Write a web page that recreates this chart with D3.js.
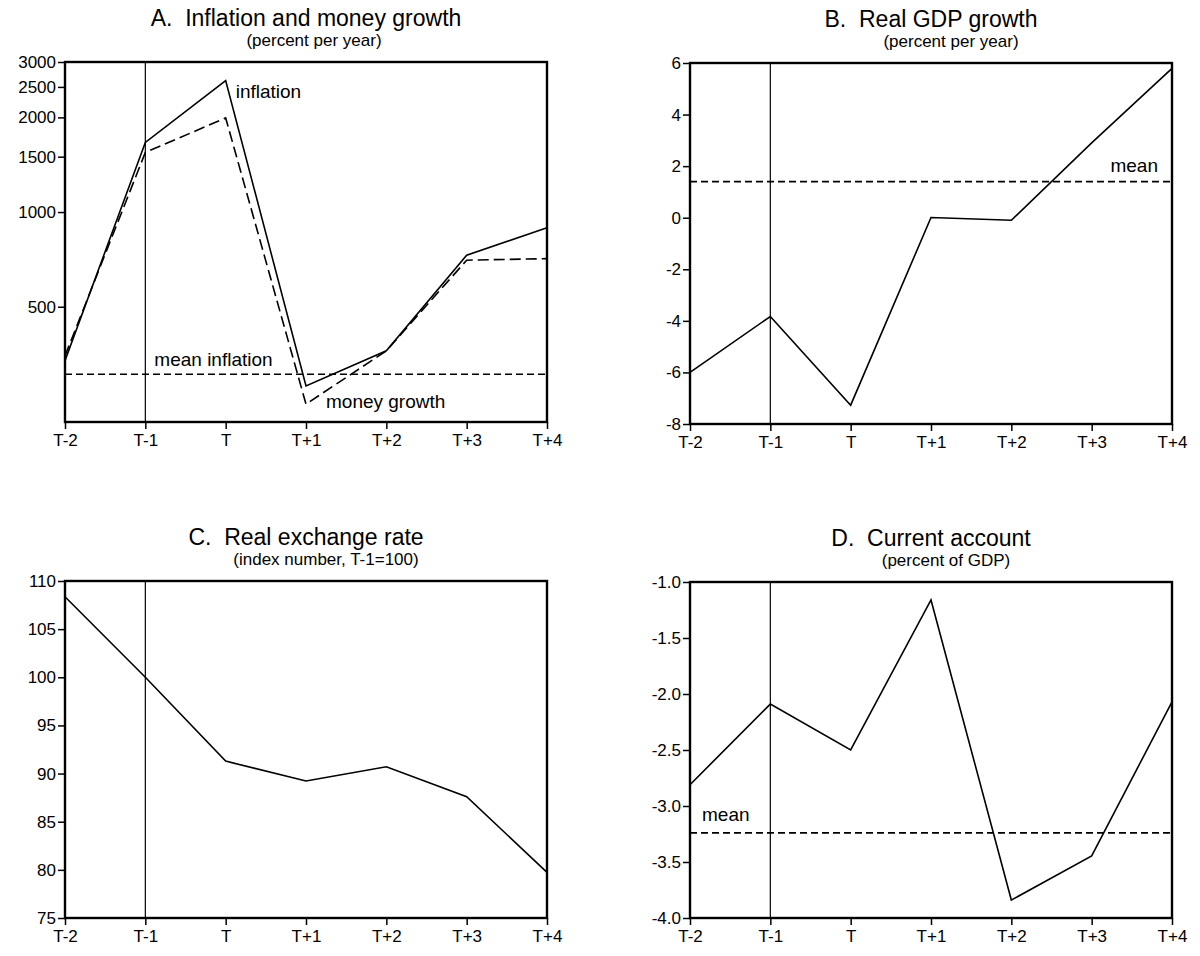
<!DOCTYPE html>
<html>
<head>
<meta charset="utf-8">
<script src="https://cdn.jsdelivr.net/npm/d3@7"></script>
<style>
  body { margin: 0; background: #fff; }
  svg { font-family: "Liberation Sans", Arial, sans-serif; }
</style>
</head>
<body>
<div class="charts"></div>
<script>
// periods around the stabilization year T
var periods = ["T-2", "T-1", "T", "T+1", "T+2", "T+3", "T+4"];

// A. inflation and money growth (percent per year, log scale)
var inflation = [337, 1665, 2620, 280, 362, 729, 891];
var moneyGrowth = [349, 1547, 1992, 245, 362, 703, 711];
var meanInflation = 305;
var ticksA = [500, 1000, 1500, 2000, 2500, 3000];

// B. real GDP growth (percent per year)
var gdpGrowth = [-6.0, -3.83, -7.27, 0.01, -0.1, 2.9, 5.79];
var meanGdp = 1.4;
var ticksB = [-8, -6, -4, -2, 0, 2, 4, 6];

// C. real exchange rate (index, T-1 = 100)
var realExchange = [108.36, 100, 91.29, 89.23, 90.7, 87.6, 79.74];
var ticksC = [75, 80, 85, 90, 95, 100, 105, 110];

// D. current account (percent of GDP)
var currentAccount = [-2.81, -2.09, -2.5, -1.16, -3.84, -3.445, -2.07];
var meanCurrent = -3.24;
var ticksD = [-4.0, -3.5, -3.0, -2.5, -2.0, -1.5, -1.0];

var svg = d3.select(".charts").append("svg")
    .attr("width", 1200)
    .attr("height", 956);

function panel(opt) {
  var x = d3.scalePoint().domain(periods).range([opt.left, opt.right]);
  var y = (opt.log ? d3.scaleLog() : d3.scaleLinear())
      .domain(opt.domain).range([opt.bottom, opt.top]);
  var g = svg.append("g");
  var cx = (opt.left + opt.right) / 2;

  g.append("text")
      .attr("x", cx).attr("y", opt.top - 36)
      .attr("text-anchor", "middle")
      .style("font-size", "23px")
      .style("white-space", "pre")
      .text(opt.title);
  g.append("text")
      .attr("x", cx + opt.subShift).attr("y", opt.top - 16)
      .attr("text-anchor", "middle")
      .style("font-size", "17px")
      .text(opt.subtitle);

  var xAxis = g.append("g")
      .attr("transform", "translate(0," + opt.bottom + ")")
      .call(d3.axisBottom(x).tickSize(7).tickSizeOuter(0));
  var yAxis = g.append("g")
      .attr("transform", "translate(" + opt.left + ",0)")
      .call(d3.axisLeft(y).tickValues(opt.ticks).tickFormat(opt.fmt).tickSize(7).tickSizeOuter(0).tickPadding(2));
  [xAxis, yAxis].forEach(function (a) {
    a.select(".domain").remove();
    a.selectAll("text").style("font-size", "17px").attr("fill", "#000")
        .style("font-family", "'Liberation Sans', Arial, sans-serif");
    a.selectAll("line").attr("stroke", "#000").attr("stroke-width", 1.5);
  });
  xAxis.selectAll("text").attr("dy", "0.85em");

  // T-1 reference line
  g.append("line")
      .attr("x1", x("T-1")).attr("x2", x("T-1"))
      .attr("y1", opt.top).attr("y2", opt.bottom)
      .attr("stroke", "#000").attr("stroke-width", 1.2);

  if (opt.mean !== undefined) {
    g.append("line")
        .attr("x1", opt.left).attr("x2", opt.right)
        .attr("y1", y(opt.mean)).attr("y2", y(opt.mean))
        .attr("stroke", "#000").attr("stroke-width", 1.6)
        .attr("stroke-dasharray", "7,4");
  }

  var line = d3.line()
      .x(function (d, i) { return x(periods[i]); })
      .y(function (d) { return y(d); });

  opt.series.forEach(function (s) {
    g.append("path")
        .datum(s.values)
        .attr("d", line)
        .attr("fill", "none")
        .attr("stroke", "#000")
        .attr("stroke-width", 1.6)
        .attr("stroke-dasharray", s.dash || null);
  });

  (opt.notes || []).forEach(function (n) {
    g.append("text")
        .attr("x", x(n.at) + n.dx)
        .attr("y", y(n.v) + n.dy)
        .attr("text-anchor", n.anchor || "start")
        .style("font-size", "19px")
        .text(n.text);
  });

  g.append("rect")
      .attr("x", opt.left).attr("y", opt.top)
      .attr("width", opt.right - opt.left).attr("height", opt.bottom - opt.top)
      .attr("fill", "none").attr("stroke", "#000").attr("stroke-width", 2.4);
}

var plain = function (d) { return String(d); };

panel({
  left: 65, right: 547, top: 62, bottom: 422,
  log: true, domain: [215, 3000], ticks: ticksA, fmt: plain,
  title: "A.  Inflation and money growth", subtitle: "(percent per year)", subShift: 8,
  mean: meanInflation,
  series: [{ values: inflation }, { values: moneyGrowth, dash: "11,5" }],
  notes: [
    { text: "inflation", at: "T", v: inflation[2], dx: 10, dy: 18 },
    { text: "mean inflation", at: "T-1", v: meanInflation, dx: 9, dy: -8 },
    { text: "money growth", at: "T+1", v: moneyGrowth[3], dx: 20, dy: 4 }
  ]
});

panel({
  left: 690, right: 1172, top: 63, bottom: 424,
  domain: [-8, 6], ticks: ticksB, fmt: plain,
  title: "B.  Real GDP growth", subtitle: "(percent per year)", subShift: 20,
  mean: meanGdp,
  series: [{ values: gdpGrowth }],
  notes: [{ text: "mean", at: "T+4", v: meanGdp, dx: -14, dy: -10, anchor: "end" }]
});

panel({
  left: 65, right: 547, top: 581, bottom: 918,
  domain: [75, 110], ticks: ticksC, fmt: plain,
  title: "C.  Real exchange rate", subtitle: "(index number, T-1=100)", subShift: 20,
  series: [{ values: realExchange }]
});

panel({
  left: 690, right: 1172, top: 582, bottom: 918,
  domain: [-4, -1], ticks: ticksD, fmt: function (d) { return d.toFixed(1); },
  title: "D.  Current account", subtitle: "(percent of GDP)", subShift: 15,
  mean: meanCurrent,
  series: [{ values: currentAccount }],
  notes: [{ text: "mean", at: "T-2", v: meanCurrent, dx: 12, dy: -12 }]
});
</script>
</body>
</html>
